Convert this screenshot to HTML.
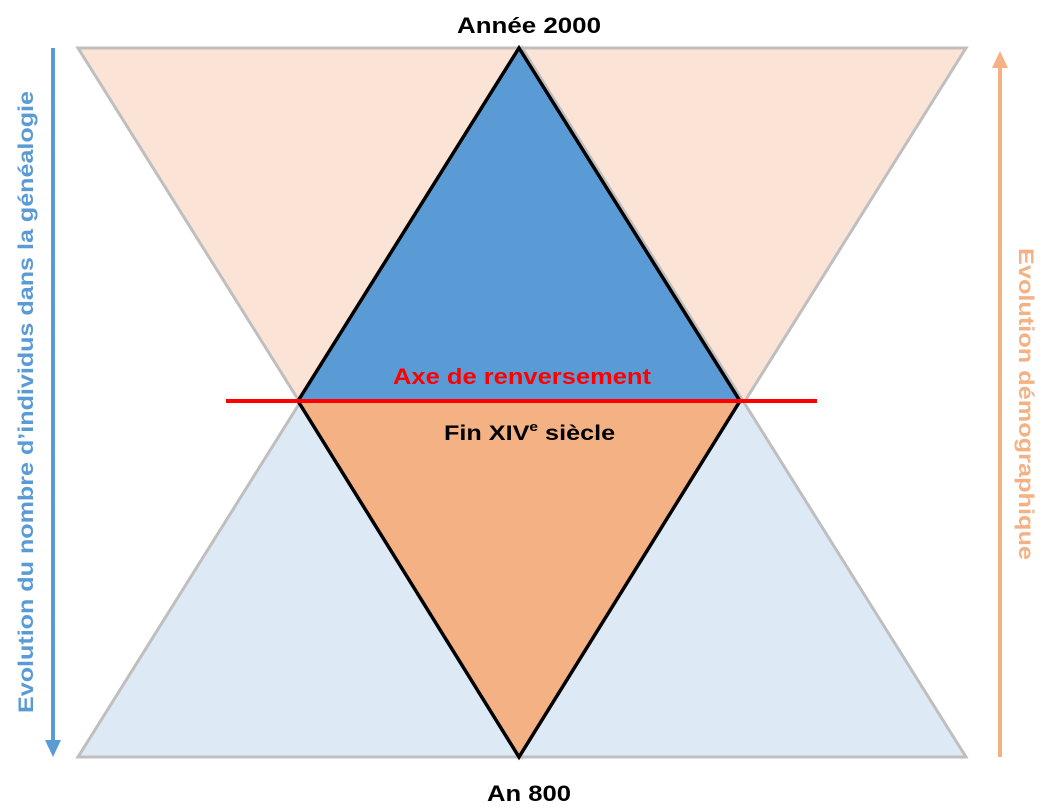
<!DOCTYPE html>
<html><head><meta charset="utf-8"><style>
html,body{margin:0;padding:0;background:#fff;}
svg{display:block;}
text{font-family:"Liberation Sans",sans-serif;font-weight:bold;}
</style></head><body>
<svg width="1053" height="808" viewBox="0 0 1053 808" xmlns="http://www.w3.org/2000/svg">
<polygon points="78,48 966,48 522,757" fill="#fbe4d6" stroke="#bfbfbf" stroke-width="3"/>
<polygon points="78,757 966,757 522,48" fill="#dee9f6" stroke="#bfbfbf" stroke-width="3"/>
<polygon points="519,48 740,401 298,401" fill="#5b9bd5"/>
<polygon points="298,401 740,401 519,757" fill="#f4b183"/>
<polygon points="519,48 740,401 519,757 298,401" fill="none" stroke="#000" stroke-width="3.5" stroke-linejoin="miter"/>
<line x1="226" y1="401" x2="817" y2="401" stroke="#ff0000" stroke-width="4"/>
<line x1="53" y1="48" x2="53" y2="742" stroke="#5b9bd5" stroke-width="4"/>
<polygon points="45,740 61,740 53,757" fill="#5b9bd5"/>
<line x1="1000" y1="757" x2="1000" y2="66" stroke="#f4b183" stroke-width="4"/>
<polygon points="992,68 1008,68 1000,51" fill="#f4b183"/>
<text x="457" y="33" font-size="22" fill="#000" textLength="144" lengthAdjust="spacingAndGlyphs">Année 2000</text>
<text x="487" y="801" font-size="22" fill="#000" textLength="84" lengthAdjust="spacingAndGlyphs">An 800</text>
<text x="393" y="384" font-size="22" fill="#ff0000" textLength="258" lengthAdjust="spacingAndGlyphs">Axe de renversement</text>
<text transform="translate(444,440) scale(1.2,1)" font-size="21" fill="#000">Fin XIV<tspan font-size="13" dy="-9">e</tspan><tspan dy="9"> siècle</tspan></text>
<text transform="translate(33,402) rotate(-90)" font-size="21" text-anchor="middle" fill="#5b9bd5" textLength="622" lengthAdjust="spacingAndGlyphs">Evolution du nombre d’individus dans la généalogie</text>
<text transform="translate(1019,404) rotate(90)" font-size="21" text-anchor="middle" fill="#f4b183" textLength="312" lengthAdjust="spacingAndGlyphs">Evolution démographique</text>
</svg>
</body></html>
